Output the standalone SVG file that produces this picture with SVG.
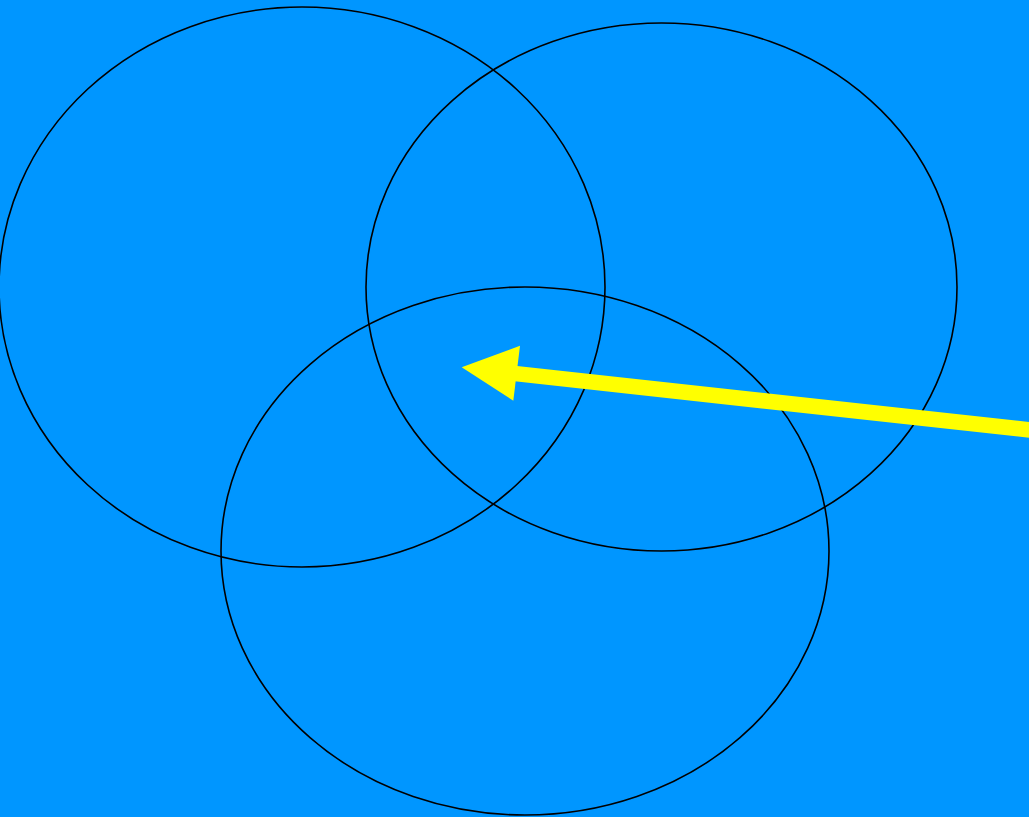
<svg xmlns="http://www.w3.org/2000/svg" width="1029" height="817" viewBox="0 0 1029 817">
<style>
.c{fill:none;stroke:#000;stroke-width:1.6}
</style>
<rect width="1029" height="817" fill="#0096FF"/>
<g id="circle-left"><ellipse class="c" cx="302" cy="287" rx="303" ry="280"/></g>
<g id="circle-right"><ellipse class="c" cx="661.5" cy="287" rx="295.5" ry="264"/></g>
<g id="circle-bottom"><ellipse class="c" cx="525" cy="551" rx="304" ry="264"/></g>
<g id="connectors">
<line x1="1035" y1="430.5" x2="505" y2="372.5" stroke="#FFFF00" stroke-width="15.5"/>
<polygon points="461.7,367.3 520,345.7 513.3,400.7" fill="#FFFF00"/>
</g>
</svg>
